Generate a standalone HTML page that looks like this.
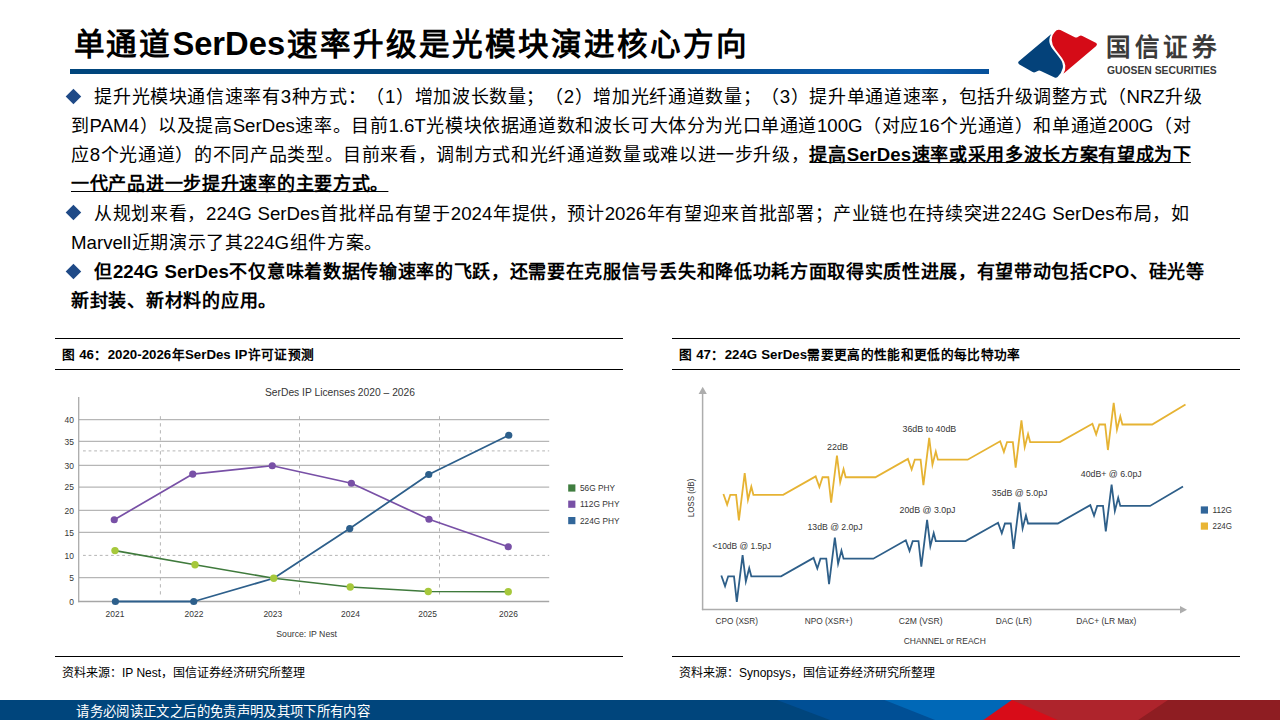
<!DOCTYPE html>
<html lang="zh-CN">
<head>
<meta charset="utf-8">
<title>单通道SerDes速率升级是光模块演进核心方向</title>
<style>
*{margin:0;padding:0;box-sizing:border-box;}
html,body{width:1280px;height:720px;overflow:hidden;background:#fff;}
body{font-family:"Liberation Sans",sans-serif;color:#000;position:relative;}
.abs{position:absolute;}
#title{left:73.5px;top:23.5px;font-size:30.6px;font-weight:bold;line-height:40px;white-space:nowrap;width:673px;text-align-last:justify;}
#rule{left:70px;top:69px;width:919px;height:5px;background:linear-gradient(90deg,#00457c 0%,#00457c 58%,#044d92 72%,#0858a6 84%,#0a5eae 92%,#07509a 100%);}
#body{left:71px;top:82.9px;width:1200px;font-size:18px;line-height:29.15px;text-spacing-trim:space-all;}
#body p{white-space:nowrap;text-align:justify;text-align-last:justify;}
.dm{display:inline-block;width:22.6px;position:relative;height:10px;}
.dm:before{content:"";position:absolute;left:-2.9px;top:-2.2px;width:10.9px;height:10.9px;background:#1f4a87;transform:rotate(45deg);}
.u{text-decoration:underline;text-decoration-thickness:1.4px;text-underline-offset:0.7px;}
b{font-weight:bold;}
#body i{font-style:normal;font-size:18.67px;line-height:0;}
#title i{font-style:normal;font-size:32.7px;line-height:0;}
.figtitle i{font-style:normal;font-size:13.3px;line-height:0;}
.hline{height:1px;background:#000;}
.figtitle{font-size:12.7px;font-weight:bold;line-height:14px;white-space:nowrap;text-align-last:justify;}
.figsrc{font-size:12px;line-height:14px;white-space:nowrap;}
#footer{left:0;top:700px;width:1280px;height:20px;}
#foottext{left:76.3px;top:704.1px;font-size:13.4px;line-height:16px;color:#fff;white-space:nowrap;width:293.5px;text-align-last:justify;}
svg text{font-family:"Liberation Sans",sans-serif;}
</style>
</head>
<body>
<div id="title" class="abs">单通道<i>SerDes</i>速率升级是光模块演进核心方向</div>
<div id="rule" class="abs"></div>

<div id="body" class="abs">
<p style="width:1131.0px"><span class="dm"></span>提升光模块通信速率有<i>3</i>种方式：（<i>1</i>）增加波长数量；（<i>2</i>）增加光纤通道数量；（<i>3</i>）提升单通道速率，包括升级调整方式（<i>NRZ</i>升级</p>
<p style="width:1119.5px">到<i>PAM4</i>）以及提高<i>SerDes</i>速率。目前<i>1.6T</i>光模块依据通道数和波长可大体分为光口单通道<i>100G</i>（对应<i>16</i>个光通道）和单通道<i>200G</i>（对</p>
<p style="width:1119.8px">应<i>8</i>个光通道）的不同产品类型。目前来看，调制方式和光纤通道数量或难以进一步升级，<b class="u">提高<i>SerDes</i>速率或采用多波长方案有望成为下</b></p>
<p style="width:317.4px"><b class="u">一代产品进一步提升速率的主要方式。</b></p>
<p style="width:1118.0px"><span class="dm"></span>从规划来看，<i>224G SerDes</i>首批样品有望于<i>2024</i>年提供，预计<i>2026</i>年有望迎来首批部署；产业链也在持续突进<i>224G SerDes</i>布局，如</p>
<p style="width:311.2px"><i>Marvell</i>近期演示了其<i>224G</i>组件方案。</p>
<p style="width:1133.0px"><b><span class="dm"></span>但<i>224G SerDes</i>不仅意味着数据传输速率的飞跃，还需要在克服信号丢失和降低功耗方面取得实质性进展，有望带动包括<i>CPO</i>、硅光等</b></p>
<p style="width:205.4px"><b>新封装、新材料的应用。</b></p>
</div>

<!-- LOGO -->
<svg class="abs" style="left:1010px;top:20px" width="100" height="70" viewBox="1010 20 100 70">
<path d="M1051.3 34.1 L1018.6 61.6 Q1017.4 63 1019 64.2 L1032.6 72 Q1034 72.8 1035.6 72 L1038.2 70.8 Q1039.4 70.3 1040.8 71 L1054.6 77.4 Q1056.2 78 1057.6 77 Q1061.5 73.5 1062.8 68 Q1063.5 63 1060 58.5 Q1056.5 53.8 1052.6 49 Q1049 44 1049.3 40 Q1049.6 36.8 1051.3 34.1 Z" fill="#04427a"/>
<path d="M1056.6 30.2 Q1058.4 29.2 1060.4 30 L1074.8 37.3 Q1076.1 37.8 1077.4 37.3 L1079.4 36 Q1080.9 35.2 1082.4 36 L1096.2 43 Q1097.8 44.3 1096.2 45.9 L1063.4 73.8 Q1065.8 69.5 1065.3 65.5 Q1064.5 61.5 1062 58 Q1058.6 53.5 1055.3 49.2 Q1051.8 44.5 1051.7 40 Q1051.8 34 1056.6 30.2 Z" fill="#d50b17"/>
</svg>
<div class="abs" id="lg1" style="left:1106px;top:31.8px;font-size:24.5px;line-height:32px;font-weight:700;color:#3a3a3a;letter-spacing:4.5px;white-space:nowrap;">国信证券</div>
<div class="abs" id="lg2" style="left:1106.8px;top:64.5px;font-size:10.4px;line-height:12px;font-weight:bold;color:#3a3a3a;white-space:nowrap;transform-origin:0 0;transform:scaleX(0.995);">GUOSEN SECURITIES</div>

<!-- LEFT FIGURE -->
<div class="abs hline" style="left:55px;top:338px;width:568px;"></div>
<div class="abs figtitle" style="left:62px;top:348.3px;width:252px;">图 <i>46</i>：<i>2020-2026</i>年<i>SerDes IP</i>许可证预测</div>
<div class="abs hline" style="left:55px;top:369px;width:568px;"></div>
<div class="abs hline" style="left:55px;top:656px;width:568px;"></div>
<div class="abs figsrc" style="left:62px;top:665.6px;">资料来源：IP Nest，国信证券经济研究所整理</div>

<!-- RIGHT FIGURE -->
<div class="abs hline" style="left:672px;top:338px;width:568px;"></div>
<div class="abs figtitle" style="left:679px;top:348.3px;width:341.3px;">图 <i>47</i>：<i>224G SerDes</i>需要更高的性能和更低的每比特功率</div>
<div class="abs hline" style="left:672px;top:369px;width:568px;"></div>
<div class="abs hline" style="left:672px;top:656px;width:568px;"></div>
<div class="abs figsrc" style="left:679px;top:665.6px;">资料来源：Synopsys，国信证券经济研究所整理</div>

<!-- CHARTS -->
<svg id="charts" class="abs" style="left:0;top:370px" width="1280" height="286" viewBox="0 370 1280 286">
<!--CHART1-->
<line x1="160.4" y1="416.2" x2="160.4" y2="598" stroke="#adadad" stroke-width="0.9" stroke-dasharray="3.3 3.7"/>
<line x1="299.5" y1="416.2" x2="299.5" y2="598" stroke="#adadad" stroke-width="0.9" stroke-dasharray="3.3 3.7"/>
<line x1="439.5" y1="416.2" x2="439.5" y2="598" stroke="#adadad" stroke-width="0.9" stroke-dasharray="3.3 3.7"/>
<line x1="79" y1="419.6" x2="549.2" y2="419.6" stroke="#b6b6b6" stroke-width="1.2"/>
<line x1="79" y1="441.3" x2="549.2" y2="441.3" stroke="#b6b6b6" stroke-width="1.2"/>
<line x1="79" y1="465.3" x2="549.2" y2="465.3" stroke="#b6b6b6" stroke-width="1.2"/>
<line x1="79" y1="487.2" x2="549.2" y2="487.2" stroke="#b6b6b6" stroke-width="1.2"/>
<line x1="79" y1="510.4" x2="549.2" y2="510.4" stroke="#b6b6b6" stroke-width="1.2"/>
<line x1="79" y1="532.3" x2="549.2" y2="532.3" stroke="#b6b6b6" stroke-width="1.2"/>
<line x1="79" y1="577.6" x2="549.2" y2="577.6" stroke="#b6b6b6" stroke-width="1.2"/>
<line x1="83" y1="450.9" x2="549.2" y2="450.9" stroke="#adadad" stroke-width="0.9" stroke-dasharray="2.8 2.8"/>
<line x1="83" y1="555.4" x2="549.2" y2="555.4" stroke="#adadad" stroke-width="0.9" stroke-dasharray="2.8 2.8"/>
<line x1="78.75" y1="397" x2="78.75" y2="602.3" stroke="#9a9a9a" stroke-width="1.1"/>
<line x1="78.2" y1="601.5" x2="549.2" y2="601.5" stroke="#a6a6a6" stroke-width="1.7"/>
<text x="64.50" y="422.84" font-size="8.5" fill="#353535" textLength="9.40" lengthAdjust="spacingAndGlyphs" >40</text>
<text x="64.50" y="444.54" font-size="8.5" fill="#353535" textLength="9.40" lengthAdjust="spacingAndGlyphs" >35</text>
<text x="64.50" y="468.54" font-size="8.5" fill="#353535" textLength="9.40" lengthAdjust="spacingAndGlyphs" >30</text>
<text x="64.50" y="490.44" font-size="8.5" fill="#353535" textLength="9.40" lengthAdjust="spacingAndGlyphs" >25</text>
<text x="64.50" y="513.64" font-size="8.5" fill="#353535" textLength="9.40" lengthAdjust="spacingAndGlyphs" >20</text>
<text x="64.50" y="535.54" font-size="8.5" fill="#353535" textLength="9.40" lengthAdjust="spacingAndGlyphs" >15</text>
<text x="64.50" y="558.64" font-size="8.5" fill="#353535" textLength="9.40" lengthAdjust="spacingAndGlyphs" >10</text>
<text x="69.20" y="580.84" font-size="8.5" fill="#353535" textLength="4.70" lengthAdjust="spacingAndGlyphs" >5</text>
<text x="69.20" y="604.74" font-size="8.5" fill="#353535" textLength="4.70" lengthAdjust="spacingAndGlyphs" >0</text>
<text x="105.60" y="617.24" font-size="8.5" fill="#353535" textLength="18.80" lengthAdjust="spacingAndGlyphs" >2021</text>
<text x="184.60" y="617.24" font-size="8.5" fill="#353535" textLength="18.80" lengthAdjust="spacingAndGlyphs" >2022</text>
<text x="263.40" y="617.24" font-size="8.5" fill="#353535" textLength="18.80" lengthAdjust="spacingAndGlyphs" >2023</text>
<text x="341.10" y="617.24" font-size="8.5" fill="#353535" textLength="18.80" lengthAdjust="spacingAndGlyphs" >2024</text>
<text x="418.20" y="617.24" font-size="8.5" fill="#353535" textLength="18.80" lengthAdjust="spacingAndGlyphs" >2025</text>
<text x="499.10" y="617.24" font-size="8.5" fill="#353535" textLength="18.80" lengthAdjust="spacingAndGlyphs" >2026</text>
<text x="265.00" y="396.18" font-size="10" fill="#353535" textLength="150.00" lengthAdjust="spacingAndGlyphs" >SerDes IP Licenses 2020 – 2026</text>
<text x="276.30" y="636.88" font-size="8.6" fill="#353535" textLength="60.70" lengthAdjust="spacingAndGlyphs" >Source: IP Nest</text>
<polyline fill="none" stroke="#7850a6" stroke-width="1.7" stroke-linejoin="round" points="114.25,519.75 192.75,474.1 272.25,465.75 351.4,483.25 429,519.25 508.25,546.75"/>
<circle cx="114.25" cy="519.75" r="3.6" fill="#7850a6"/>
<circle cx="192.75" cy="474.1" r="3.6" fill="#7850a6"/>
<circle cx="272.25" cy="465.75" r="3.6" fill="#7850a6"/>
<circle cx="351.4" cy="483.25" r="3.6" fill="#7850a6"/>
<circle cx="429" cy="519.25" r="3.6" fill="#7850a6"/>
<circle cx="508.25" cy="546.75" r="3.6" fill="#7850a6"/>
<polyline fill="none" stroke="#2d5f8b" stroke-width="1.8" stroke-linejoin="round" points="115.4,601.5 193.75,601.5 273.75,578.25 349.75,528.6 428.75,474.5 508.75,435.25"/>
<circle cx="115.4" cy="601.5" r="3.6" fill="#2d5f8b"/>
<circle cx="193.75" cy="601.5" r="3.6" fill="#2d5f8b"/>
<circle cx="349.75" cy="528.6" r="3.6" fill="#2d5f8b"/>
<circle cx="428.75" cy="474.5" r="3.6" fill="#2d5f8b"/>
<circle cx="508.75" cy="435.25" r="3.6" fill="#2d5f8b"/>
<polyline fill="none" stroke="#3f7a3c" stroke-width="1.6" stroke-linejoin="round" points="115,550.6 195,564.75 273.75,578.25 350.25,587 428.25,591.5 508.25,591.75"/>
<circle cx="115" cy="550.6" r="3.7" fill="#a6c83b"/>
<circle cx="195" cy="564.75" r="3.7" fill="#a6c83b"/>
<circle cx="273.75" cy="578.25" r="3.7" fill="#a6c83b"/>
<circle cx="350.25" cy="587" r="3.7" fill="#a6c83b"/>
<circle cx="428.25" cy="591.5" r="3.7" fill="#a6c83b"/>
<circle cx="508.25" cy="591.75" r="3.7" fill="#a6c83b"/>
<rect x="568.2" y="484.4" width="7.2" height="7.2" fill="#3f7d3f"/>
<text x="580.00" y="491.21" font-size="8.4" fill="#353535" textLength="35.00" lengthAdjust="spacingAndGlyphs" >56G PHY</text>
<rect x="568.2" y="500.59999999999997" width="7.2" height="7.2" fill="#7850a6"/>
<text x="580.00" y="507.41" font-size="8.4" fill="#353535" textLength="39.50" lengthAdjust="spacingAndGlyphs" >112G PHY</text>
<rect x="568.2" y="517.0" width="7.2" height="7.2" fill="#31669a"/>
<text x="580.00" y="523.81" font-size="8.4" fill="#353535" textLength="39.50" lengthAdjust="spacingAndGlyphs" >224G PHY</text>
<!--/CHART1-->
<!--CHART2-->
<line x1="702.6" y1="391" x2="702.6" y2="610.2" stroke="#adadad" stroke-width="1.5"/>
<line x1="701.9" y1="609.6" x2="1182" y2="609.6" stroke="#adadad" stroke-width="1.5"/>
<polygon points="702.7,386.8 698.6,394 706.8,394" fill="#adadad"/>
<polygon points="1187,609.7 1180,605.9 1180,613.5" fill="#adadad"/>
<polyline fill="none" stroke="#e6b333" stroke-width="1.8" stroke-linejoin="miter" stroke-miterlimit="6" points="723.40,494.00 727.15,504.60 730.30,494.80 736.10,494.80 738.90,520.30 744.70,473.07 747.95,499.80 751.30,486.70 753.40,494.80 783.15,494.80 815.65,476.43 819.40,487.03 822.55,477.23 828.35,477.23 831.15,502.73 836.95,455.50 840.20,482.23 843.55,469.13 845.65,477.23 875.40,477.23 907.90,458.86 911.65,469.46 914.80,459.66 920.60,459.66 923.40,485.16 929.20,437.93 932.45,464.66 935.80,451.56 937.90,459.66 967.65,459.66 1000.15,441.29 1003.90,451.89 1007.05,442.09 1012.85,442.09 1015.65,467.59 1021.45,420.36 1024.70,447.09 1028.05,433.99 1030.15,442.09 1059.90,442.09 1092.40,423.72 1096.15,434.32 1099.30,424.52 1105.10,424.52 1107.90,450.02 1113.70,402.79 1116.95,429.52 1120.30,416.42 1122.40,424.52 1152.15,424.52 1185.50,404.50"/>
<polyline fill="none" stroke="#2e5f89" stroke-width="1.8" stroke-linejoin="miter" stroke-miterlimit="6" points="721.30,575.50 725.05,586.10 728.20,576.30 734.00,576.30 736.80,601.80 742.60,555.10 745.85,581.30 749.20,568.20 751.30,576.30 781.05,576.30 813.55,557.90 817.30,568.50 820.45,558.70 826.25,558.70 829.05,584.20 834.85,537.50 838.10,563.70 841.45,550.60 843.55,558.70 873.30,558.70 905.80,540.30 909.55,550.90 912.70,541.10 918.50,541.10 921.30,566.60 927.10,519.90 930.35,546.10 933.70,533.00 935.80,541.10 965.55,541.10 998.05,522.70 1001.80,533.30 1004.95,523.50 1010.75,523.50 1013.55,549.00 1019.35,502.30 1022.60,528.50 1025.95,515.40 1028.05,523.50 1057.80,523.50 1090.30,505.10 1094.05,515.70 1097.20,505.90 1103.00,505.90 1105.80,531.40 1111.60,484.70 1114.85,510.90 1118.20,497.80 1120.30,505.90 1150.05,505.90 1183.00,486.40"/>
<text x="715.60" y="623.78" font-size="8.6" fill="#353535" textLength="42.40" lengthAdjust="spacingAndGlyphs" >CPO (XSR)</text>
<text x="804.75" y="623.78" font-size="8.6" fill="#353535" textLength="47.75" lengthAdjust="spacingAndGlyphs" >NPO (XSR+)</text>
<text x="898.75" y="623.78" font-size="8.6" fill="#353535" textLength="43.75" lengthAdjust="spacingAndGlyphs" >C2M (VSR)</text>
<text x="995.75" y="623.78" font-size="8.6" fill="#353535" textLength="36.00" lengthAdjust="spacingAndGlyphs" >DAC (LR)</text>
<text x="1076.25" y="623.78" font-size="8.6" fill="#353535" textLength="60.00" lengthAdjust="spacingAndGlyphs" >DAC+ (LR Max)</text>
<text x="903.75" y="643.88" font-size="8.6" fill="#353535" textLength="82.00" lengthAdjust="spacingAndGlyphs" >CHANNEL or REACH</text>
<text x="712.50" y="549.38" font-size="8.6" fill="#353535" textLength="58.75" lengthAdjust="spacingAndGlyphs" >&lt;10dB @ 1.5pJ</text>
<text x="807.50" y="529.88" font-size="8.6" fill="#353535" textLength="55.00" lengthAdjust="spacingAndGlyphs" >13dB @ 2.0pJ</text>
<text x="899.50" y="513.18" font-size="8.6" fill="#353535" textLength="56.00" lengthAdjust="spacingAndGlyphs" >20dB @ 3.0pJ</text>
<text x="991.75" y="495.68" font-size="8.6" fill="#353535" textLength="55.75" lengthAdjust="spacingAndGlyphs" >35dB @ 5.0pJ</text>
<text x="1080.75" y="477.38" font-size="8.6" fill="#353535" textLength="61.00" lengthAdjust="spacingAndGlyphs" >40dB+ @ 6.0pJ</text>
<text x="827.00" y="450.18" font-size="8.6" fill="#353535" textLength="21.00" lengthAdjust="spacingAndGlyphs" >22dB</text>
<text x="902.50" y="431.88" font-size="8.6" fill="#353535" textLength="53.75" lengthAdjust="spacingAndGlyphs" >36dB to 40dB</text>
<g transform="translate(691.3,498) rotate(-90)"><text x="-19.30" y="2.94" font-size="8.2" fill="#353535" textLength="38.60" lengthAdjust="spacingAndGlyphs" >LOSS (dB)</text></g>
<rect x="1200.8" y="506.4" width="7.2" height="7.2" fill="#31669a"/>
<text x="1212.50" y="512.84" font-size="8.5" fill="#353535" textLength="19.50" lengthAdjust="spacingAndGlyphs" >112G</text>
<rect x="1200.8" y="522.5" width="7.2" height="7.2" fill="#e9b535"/>
<text x="1212.50" y="528.94" font-size="8.5" fill="#353535" textLength="19.50" lengthAdjust="spacingAndGlyphs" >224G</text>
<!--/CHART2-->
</svg>

<!-- FOOTER -->
<svg id="footer" class="abs" viewBox="0 700 1280 20" width="1280" height="20">
<rect x="0" y="700" width="1280" height="20" fill="#00457c"/>
<polygon points="777,700 830,720 1280,720 1280,700" fill="#004f95"/>
<polygon points="884.5,700 935,720 1280,720 1280,700" fill="#0068b7"/>
<polygon points="1011.8,700 983.4,720 1280,720 1280,700" fill="#d80c18"/>
<polygon points="1011.8,700 1057.5,720 1280,720 1280,700" fill="#ae242c"/>
<polygon points="1168,700 1138.2,720 1280,720 1280,700" fill="#8e1d22"/>
</svg>
<div id="foottext" class="abs">请务必阅读正文之后的免责声明及其项下所有内容</div>
</body>
</html>
